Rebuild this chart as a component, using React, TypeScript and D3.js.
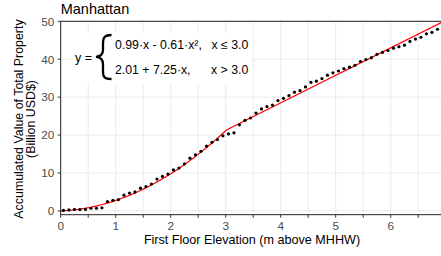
import React from 'react';
import * as d3 from 'd3';

// observed accumulated value (billion USD) at first floor elevations
const elevations = [
  0.05, 0.15, 0.25, 0.35, 0.45, 0.55, 0.65, 0.75, 0.85, 0.95,
  1.05, 1.15, 1.25, 1.35, 1.45, 1.55, 1.65, 1.75, 1.85, 1.95,
  2.05, 2.15, 2.25, 2.35, 2.45, 2.55, 2.65, 2.75, 2.85, 2.95,
  3.05, 3.15, 3.25, 3.35, 3.45, 3.55, 3.65, 3.75, 3.85, 3.95,
  4.05, 4.15, 4.25, 4.35, 4.45, 4.55, 4.65, 4.75, 4.85, 4.95,
  5.05, 5.15, 5.25, 5.35, 5.45, 5.55, 5.65, 5.75, 5.85, 5.95,
  6.05, 6.15, 6.25, 6.35, 6.45, 6.55, 6.65, 6.75, 6.85,
];
const values = [
  0.15, 0.25, 0.4, 0.35, 0.4, 0.7, 0.7, 0.8, 2.45, 2.8,
  3.0, 4.15, 4.7, 5.0, 6.0, 6.4, 7.1, 8.4, 9.1, 9.7,
  10.8, 11.3, 12.4, 13.9, 14.8, 15.7, 17.1, 18.1, 18.8, 19.8,
  20.3, 20.6, 22.7, 23.9, 24.5, 25.8, 26.9, 27.5, 27.9, 29.1,
  29.7, 30.4, 31.3, 31.7, 32.7, 33.9, 34.2, 34.9, 35.8, 36.4,
  36.9, 37.5, 37.9, 38.4, 39.4, 39.9, 40.4, 41.3, 41.8, 42.3,
  42.9, 43.3, 43.7, 44.7, 45.3, 45.8, 46.7, 47.1, 47.9,
];

// piecewise fit as drawn (quadratic below breakpoint, linear above)
const breakPoint = 3.0;
const quadCoef = [0.6, 2.15];
const linCoef = [-0.5, 7.25];

const xTicks = [0, 0.5, 1, 1.5, 2, 2.5, 3, 3.5, 4, 4.5, 5, 5.5, 6, 6.5];
const xLabels = [0, 1, 2, 3, 4, 5, 6];
const yTicks = [0, 10, 20, 30, 40, 50];

const W = 441;
const H = 256;
const left = 60.7;
const top = 21.3;
const bottom = 214.7;
const font = '"Liberation Sans", Arial, Helvetica, sans-serif';

const fit = (x: number) =>
  x <= breakPoint ? quadCoef[0] * x + quadCoef[1] * x * x : linCoef[0] + linCoef[1] * x;

export default function App() {
  const x = d3.scaleLinear().domain([0, 7]).range([left, left + 55 * 7]);
  const y = d3.scaleLinear().domain([-1, 50]).range([bottom, top]);

  const fitX = d3.range(0, 7.0001, 0.02).concat([breakPoint]).sort((a, b) => a - b);
  const line = d3.line<number>().x(d => x(d)).y(d => y(fit(d)));

  const pts = elevations.map((e, i) => ({ e, v: values[i] }));

  // label box
  const bx = 73, by = 33, bw = 179, bh = 50;

  return (
    <svg width={W} height={H} style={{ position: 'absolute', left: 0, top: 0, background: '#fff' }} fontFamily={font}>
      <text x={left} y={14} fontSize={14.5} fill="#000">Manhattan</text>

      <g>
        {xTicks.map(t => (
          <line key={'gx' + t} x1={x(t)} x2={x(t)} y1={top} y2={bottom} stroke="#ebebeb" strokeWidth={1} />
        ))}
        {yTicks.map(t => (
          <line key={'gy' + t} x1={left} x2={W} y1={y(t)} y2={y(t)} stroke="#ebebeb" strokeWidth={1} />
        ))}
      </g>

      <rect x={bx} y={by} width={bw} height={bh} fill="#fff" />

      <path d={line(fitX) || ''} fill="none" stroke="#ff0000" strokeWidth={1.2} />
      {pts.map(p => (
        <circle key={p.e} cx={x(p.e)} cy={y(p.v)} r={1.6} fill="#000" />
      ))}

      <g fill="#000">
        <text x={75} y={62.3} fontSize={12.5}>y =</text>
        <path
          d="M111.5,35 C104.5,35 103,37.5 103,44 L103,50 C103,54 101,56.3 96,56.8 C101,57.3 103,59.6 103,64 L103,71 C103,77.5 104.5,79 111.5,79"
          fill="none" stroke="#000" strokeWidth={2.3}
        />
        <text x={115} y={49.3} fontSize={12.3}>0.99·x - 0.61·x², </text>
        <text x={211.5} y={49.3} fontSize={12.3}>x ≤ 3.0</text>
        <text x={115} y={74.3} fontSize={12.3}>2.01 + 7.25·x,</text>
        <text x={211} y={74.3} fontSize={12.3}>x &gt; 3.0</text>
      </g>

      <line x1={left} x2={W} y1={top} y2={top} stroke="#222" strokeWidth={1} />
      <line x1={left} x2={left} y1={top} y2={bottom} stroke="#222" strokeWidth={1} />
      <line x1={left} x2={W} y1={bottom} y2={bottom} stroke="#222" strokeWidth={1} />

      {xTicks.map(t => (
        <line key={'tx' + t} x1={x(t)} x2={x(t)} y1={bottom} y2={bottom + 3} stroke="#333" strokeWidth={1} />
      ))}
      {xLabels.map(t => (
        <text key={'lx' + t} x={x(t)} y={229.5} fontSize={11.8} fill="#4d4d4d" textAnchor="middle">{t}</text>
      ))}
      {yTicks.map(t => (
        <g key={'ty' + t}>
          <line x1={left - 3} x2={left} y1={y(t)} y2={y(t)} stroke="#333" strokeWidth={1} />
          <text x={left - 6.3} y={y(t) + 4.3} fontSize={11.8} fill="#4d4d4d" textAnchor="end">{t}</text>
        </g>
      ))}

      <text x={252} y={243.5} fontSize={12.6} textAnchor="middle">First Floor Elevation (m above MHHW)</text>
      <g transform="translate(22.5, 119) rotate(-90)">
        <text x={0} y={0} fontSize={12.4} textAnchor="middle">Accumulated Value of Total Property</text>
        <text x={0} y={12.5} fontSize={12.4} textAnchor="middle">(Billion USD$)</text>
      </g>
    </svg>
  );
}
